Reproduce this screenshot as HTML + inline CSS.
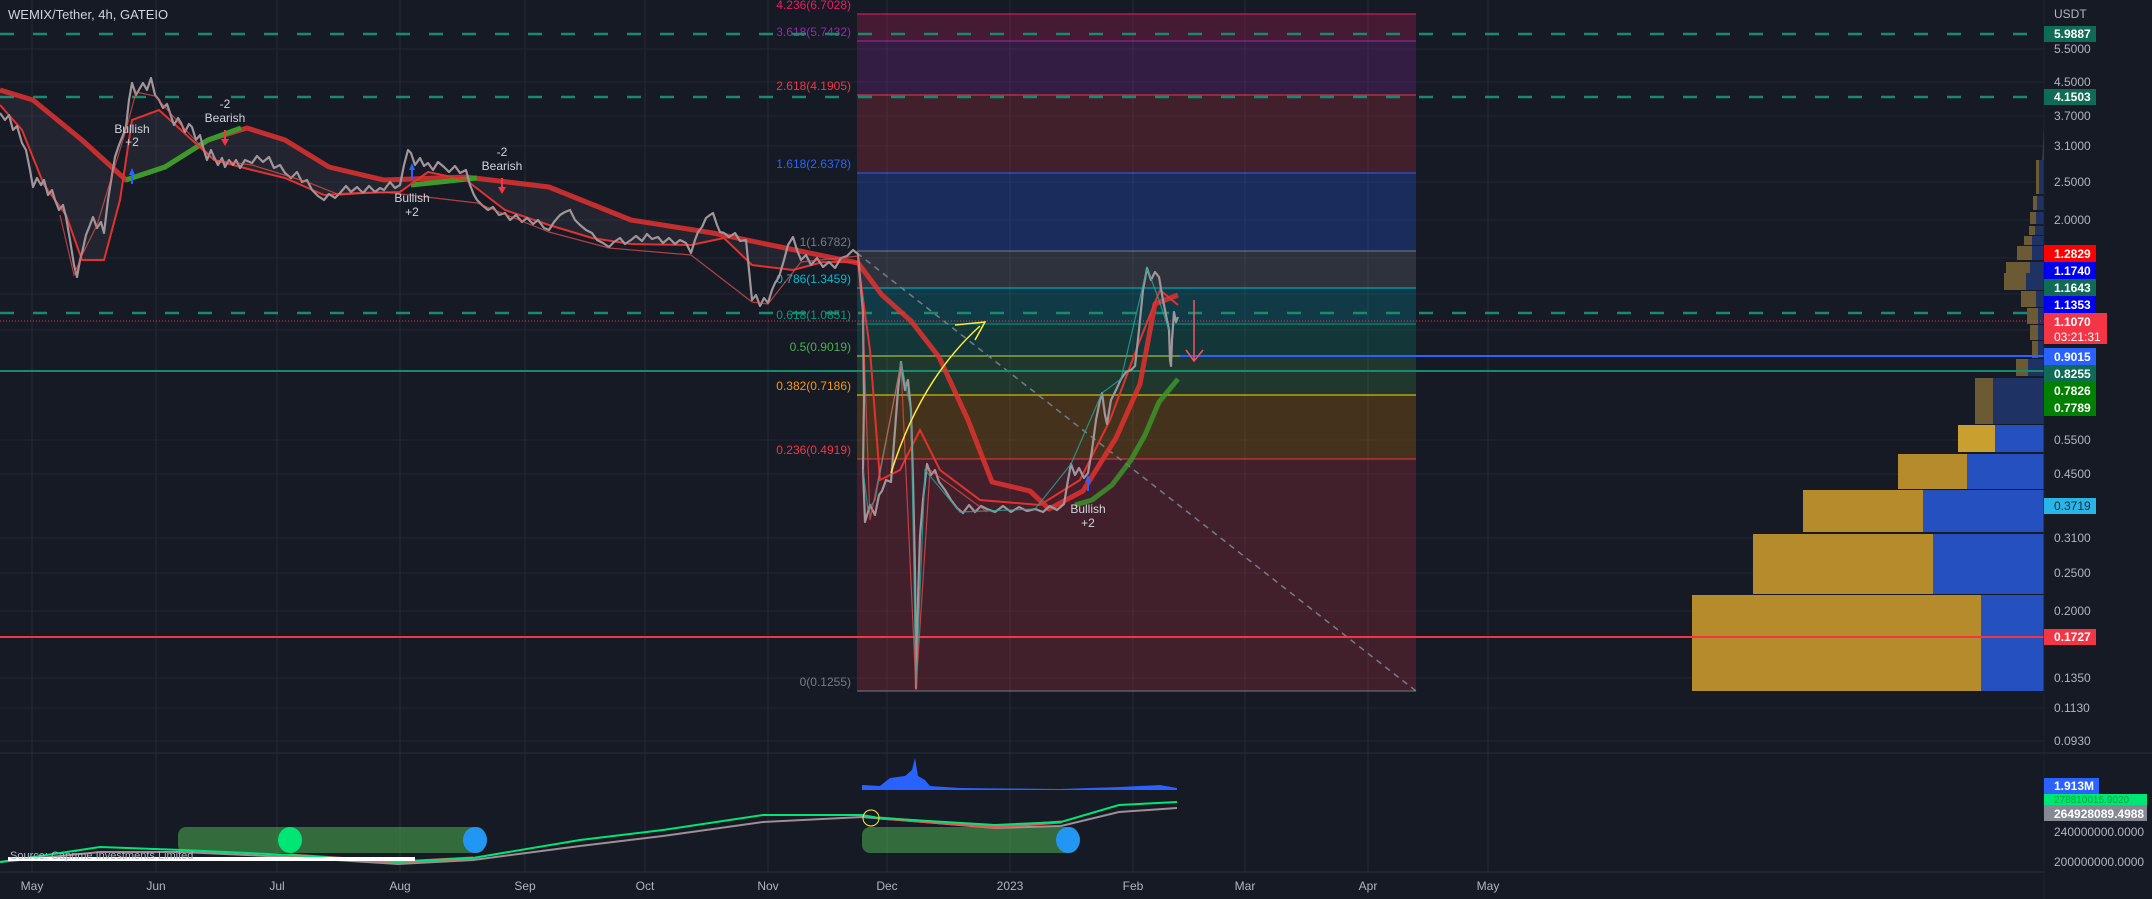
<!DOCTYPE html>
<html><head><meta charset="utf-8"><style>
html,body{margin:0;padding:0;background:#161a25;}
svg{display:block;font-family:"Liberation Sans",sans-serif;}
</style></head><body>
<svg width="2152" height="899" viewBox="0 0 2152 899" xmlns="http://www.w3.org/2000/svg">
<rect width="2152" height="899" fill="#161a25"/>
<g stroke="#242a36" stroke-width="1">
<line x1="32" y1="0" x2="32" y2="872"/><line x1="156" y1="0" x2="156" y2="872"/><line x1="277" y1="0" x2="277" y2="872"/><line x1="400" y1="0" x2="400" y2="872"/><line x1="525" y1="0" x2="525" y2="872"/><line x1="645" y1="0" x2="645" y2="872"/><line x1="768" y1="0" x2="768" y2="872"/><line x1="887" y1="0" x2="887" y2="872"/><line x1="1010" y1="0" x2="1010" y2="872"/><line x1="1133" y1="0" x2="1133" y2="872"/><line x1="1245" y1="0" x2="1245" y2="872"/><line x1="1368" y1="0" x2="1368" y2="872"/><line x1="1488" y1="0" x2="1488" y2="872"/>
</g>
<g stroke="#202532" stroke-width="1">
<line x1="0" y1="49" x2="2044" y2="49"/><line x1="0" y1="82" x2="2044" y2="82"/><line x1="0" y1="116" x2="2044" y2="116"/><line x1="0" y1="146" x2="2044" y2="146"/><line x1="0" y1="182" x2="2044" y2="182"/><line x1="0" y1="220" x2="2044" y2="220"/><line x1="0" y1="258" x2="2044" y2="258"/><line x1="0" y1="294" x2="2044" y2="294"/><line x1="0" y1="330" x2="2044" y2="330"/><line x1="0" y1="440" x2="2044" y2="440"/><line x1="0" y1="474" x2="2044" y2="474"/><line x1="0" y1="538" x2="2044" y2="538"/><line x1="0" y1="573" x2="2044" y2="573"/><line x1="0" y1="611" x2="2044" y2="611"/><line x1="0" y1="678" x2="2044" y2="678"/><line x1="0" y1="708" x2="2044" y2="708"/><line x1="0" y1="741" x2="2044" y2="741"/>
</g>
<rect x="857" y="14" width="559" height="27" fill="#e91e63" fill-opacity="0.22"/>
<rect x="857" y="41" width="559" height="54" fill="#9c27b0" fill-opacity="0.22"/>
<rect x="857" y="95" width="559" height="78" fill="#f23645" fill-opacity="0.2"/>
<rect x="857" y="173" width="559" height="78" fill="#2962ff" fill-opacity="0.25"/>
<rect x="857" y="251" width="559" height="37" fill="#787b86" fill-opacity="0.25"/>
<rect x="857" y="288" width="559" height="36" fill="#00bcd4" fill-opacity="0.2"/>
<rect x="857" y="324" width="559" height="32" fill="#089981" fill-opacity="0.22"/>
<rect x="857" y="356" width="559" height="39" fill="#4caf50" fill-opacity="0.2"/>
<rect x="857" y="395" width="559" height="64" fill="#ff9800" fill-opacity="0.2"/>
<rect x="857" y="459" width="559" height="232" fill="#f23645" fill-opacity="0.2"/>
<g stroke-width="1">
<line x1="857" y1="14" x2="1416" y2="14" stroke="#e91e63"/>
<line x1="857" y1="41" x2="1416" y2="41" stroke="#9c27b0"/>
<line x1="857" y1="95" x2="1416" y2="95" stroke="#f23645"/>
<line x1="857" y1="173" x2="1416" y2="173" stroke="#2962ff"/>
<line x1="857" y1="251" x2="1416" y2="251" stroke="#787b86"/>
<line x1="857" y1="288" x2="1416" y2="288" stroke="#00bcd4"/>
<line x1="857" y1="324" x2="1416" y2="324" stroke="#089981"/>
<line x1="857" y1="356" x2="1416" y2="356" stroke="#c8d84a"/>
<line x1="857" y1="395" x2="1416" y2="395" stroke="#ffd600"/>
<line x1="857" y1="459" x2="1416" y2="459" stroke="#f23645"/>
<line x1="857" y1="691" x2="1416" y2="691" stroke="#787b86"/>
</g>
<line x1="857" y1="253" x2="1416" y2="691" stroke="#787b86" stroke-width="1.5" stroke-dasharray="6,5"/>
<g font-size="12" text-anchor="end">
<text x="851" y="9" fill="#e91e63">4.236(6.7028)</text>
<text x="851" y="36" fill="#9c27b0">3.618(5.7432)</text>
<text x="851" y="90" fill="#f23645">2.618(4.1905)</text>
<text x="851" y="168" fill="#2962ff">1.618(2.6378)</text>
<text x="851" y="246" fill="#787b86">1(1.6782)</text>
<text x="851" y="283" fill="#00bcd4">0.786(1.3459)</text>
<text x="851" y="319" fill="#089981">0.618(1.0851)</text>
<text x="851" y="351" fill="#4caf50">0.5(0.9019)</text>
<text x="851" y="390" fill="#ff9800">0.382(0.7186)</text>
<text x="851" y="454" fill="#f23645">0.236(0.4919)</text>
<text x="851" y="686" fill="#787b86">0(0.1255)</text>
</g>
<g>
<rect x="1692" y="595" width="289" height="96" fill="#b58b2c"/><rect x="1981" y="595" width="63" height="96" fill="#2450c0"/>
<rect x="1753" y="534" width="180" height="60" fill="#b58b2c"/><rect x="1933" y="534" width="111" height="60" fill="#2450c0"/>
<rect x="1803" y="490" width="120" height="42" fill="#b58b2c"/><rect x="1923" y="490" width="121" height="42" fill="#2450c0"/>
<rect x="1898" y="454" width="69" height="35" fill="#b58b2c"/><rect x="1967" y="454" width="77" height="35" fill="#2450c0"/>
<rect x="1958" y="425" width="37" height="27" fill="#c9a030"/><rect x="1995" y="425" width="49" height="27" fill="#2450c0"/>
<rect x="1975" y="378" width="18" height="46" fill="#6b5a33"/><rect x="1993" y="378" width="51" height="46" fill="#1f3264"/>
<rect x="2016" y="359" width="20" height="17" fill="#6b5a33"/><rect x="2028" y="359" width="16" height="17" fill="#1f3264"/>
<rect x="2032" y="341" width="6" height="17" fill="#6b5a33"/><rect x="2038" y="341" width="6" height="17" fill="#1f3264"/>
<rect x="2030" y="325" width="8" height="15" fill="#6b5a33"/><rect x="2038" y="325" width="6" height="15" fill="#1f3264"/>
<rect x="2027" y="308" width="11" height="16" fill="#6b5a33"/><rect x="2038" y="308" width="6" height="16" fill="#1f3264"/>
<rect x="2021" y="291" width="15" height="16" fill="#6b5a33"/><rect x="2036" y="291" width="8" height="16" fill="#1f3264"/>
<rect x="2004" y="273" width="22" height="17" fill="#6b5a33"/><rect x="2026" y="273" width="18" height="17" fill="#1f3264"/>
<rect x="2006" y="262" width="24" height="11" fill="#6b5a33"/><rect x="2030" y="262" width="14" height="11" fill="#1f3264"/>
<rect x="2017" y="246" width="15" height="14" fill="#6b5a33"/><rect x="2032" y="246" width="12" height="14" fill="#1f3264"/>
<rect x="2024" y="236" width="8" height="9" fill="#6b5a33"/><rect x="2032" y="236" width="12" height="9" fill="#1f3264"/>
<rect x="2029" y="226" width="6" height="9" fill="#6b5a33"/><rect x="2035" y="226" width="9" height="9" fill="#1f3264"/>
<rect x="2030" y="212" width="6" height="12" fill="#6b5a33"/><rect x="2036" y="212" width="8" height="12" fill="#1f3264"/>
<rect x="2033" y="196" width="4" height="14" fill="#6b5a33"/><rect x="2037" y="196" width="7" height="14" fill="#1f3264"/>
<rect x="2036" y="160" width="3" height="34" fill="#6b5a33"/><rect x="2039" y="160" width="5" height="34" fill="#1f3264"/>
<line x1="2043" y1="160" x2="2044" y2="128" stroke="#555" stroke-width="1"/>
</g>
<g stroke="#1a8a6e" stroke-width="2.5" stroke-dasharray="14,19">
<line x1="0" y1="34" x2="2030" y2="34"/><line x1="0" y1="97" x2="2030" y2="97"/><line x1="0" y1="313" x2="2030" y2="313"/>
</g>
<line x1="0" y1="321" x2="2044" y2="321" stroke="#f23645" stroke-width="1" stroke-dasharray="1,2"/>
<line x1="1180" y1="356" x2="2044" y2="356" stroke="#2962ff" stroke-width="2"/>
<line x1="0" y1="371" x2="2044" y2="371" stroke="#1a8a6e" stroke-width="2"/>
<line x1="0" y1="637" x2="2044" y2="637" stroke="#f23645" stroke-width="2"/>
<polygon fill="#787b86" fill-opacity="0.12" points="0,90 33,100 82,140 126,180 165,167 208,140 247,128 285,140 329,167 384,180 466,177 549,187 631,220 713,233 795,250 858,263 858,262 823,262 793,270 752,265 724,238 691,245 631,244 592,238 549,225 505,210 466,180 428,172 400,192 357,193 324,195 285,178 252,170 214,160 181,130 159,110 132,120 120,200 104,260 82,260 66,215 44,185 22,130 0,105"/>
<polyline fill="none" stroke="#e3312f" stroke-opacity="0.85" stroke-width="5" stroke-linejoin="round" points="0,90 33,100 82,140 126,180 165,167 208,140 247,128 285,140 329,167 384,180 466,177 549,187 631,220 713,233 795,250 858,263 882,295 911,321 939,357 968,420 992,482 1030,491 1049,509 1083,491 1116,438 1140,384 1155,304 1178,295"/>
<polyline fill="none" stroke="#3c9a2a" stroke-width="5" points="126,180 165,167 208,140 241,128"/>
<polyline fill="none" stroke="#3c9a2a" stroke-width="5" points="411,185 440,182 477,178"/>
<polyline fill="none" stroke="#3c9a2a" stroke-opacity="0.8" stroke-width="5" points="1075,505 1092,500 1112,485 1131,460 1145,435 1159,402 1178,379"/>
<polyline fill="none" stroke="#e3312f" stroke-width="2" points="0,105 22,130 44,185 66,215 82,260 104,260 120,200 132,120 159,110 181,130 214,160 252,170 285,178 324,195 357,193 400,192 428,172 466,180 505,210 549,225 592,238 631,244 691,245 724,238 752,265 793,270 823,262 858,262 870,350 880,480 900,470 920,430 940,470 980,500 1040,505 1080,480 1110,420 1140,340 1160,290 1178,305"/>
<!-- price (dense) -->
<polyline fill="none" stroke="#a0959a" stroke-width="2.2" stroke-linejoin="round" points="0,113 5,120 9,115 13,130 17,126 22,143 26,150 30,170 33,187 37,178 41,185 44,180 48,195 52,190 55,200 59,210 63,205 66,217 70,240 74,265 77,277 80,260 82,253 86,235 90,225 93,217 97,228 101,222 104,233 108,200 112,175 115,157 119,145 123,135 126,127 129,100 132,83 136,95 140,88 143,83 147,90 151,78 155,95 159,100 163,108 167,104 170,113 174,125 178,118 181,123 185,132 189,124 192,127 196,140 200,135 203,147 207,160 211,150 214,157 218,165 222,158 225,167 229,160 233,165 236,160 240,168 245,160 252,163 257,156 263,162 269,157 274,168 280,165 285,173 291,178 297,172 302,182 307,180 312,190 318,196 324,200 329,194 335,198 340,193 346,186 351,192 357,187 363,193 369,186 375,192 380,188 384,190 390,182 395,188 400,185 404,165 408,150 411,153 415,165 420,158 424,166 428,163 433,170 438,162 444,167 449,172 455,166 460,173 466,170 470,185 474,195 477,200 482,205 488,210 493,207 499,215 505,213 510,220 516,215 522,222 527,218 533,224 538,220 544,228 549,230 554,222 560,215 565,212 570,210 575,220 580,225 586,230 592,233 597,240 603,243 609,247 614,242 620,238 625,244 631,240 636,236 642,241 647,234 652,239 658,237 663,243 669,238 675,244 680,240 686,243 691,253 695,240 698,232 702,227 706,218 710,215 713,213 717,225 720,232 724,233 729,237 735,233 740,241 746,240 749,270 752,300 756,295 760,306 764,298 768,303 772,290 775,283 779,277 784,260 788,245 793,237 797,250 801,260 806,255 811,265 817,258 823,267 829,262 835,268 841,258 847,256 853,250 858,254 861,290 863,313 864,400 863,469 865,522 870,505 875,515 879,495 882,491 886,480 891,482 895,430 898,390 901,362 905,390 908,380 911,411 913,480 915,571 916,688 918,600 920,536 923,500 927,464 931,475 935,470 939,482 945,490 951,500 957,508 963,513 969,505 975,512 981,506 987,509 995,512 1003,506 1011,512 1019,507 1027,511 1035,509 1043,512 1050,506 1057,510 1064,504 1068,480 1071,464 1075,475 1079,468 1084,478 1088,473 1092,450 1096,420 1100,400 1102,393 1105,415 1107,424 1111,400 1116,390 1121,379 1126,372 1131,370 1135,366 1139,330 1143,290 1147,268 1151,280 1155,272 1159,277 1163,300 1167,320 1169,330 1170,360 1171,366 1172,340 1174,312 1176,322 1178,317"/>
<polyline fill="none" stroke="#26a69a" stroke-opacity="0.8" stroke-width="1.2" points="863,469 868,510 875,500 901,362 911,411 916,688 925,470 960,512 1035,509 1071,464 1102,393 1121,379 1147,268 1159,300 1169,330"/>
<polyline fill="none" stroke="#ef5350" stroke-opacity="0.7" stroke-width="1.2" points="60,215 74,275 82,255 97,225 126,130 136,92 155,96 181,125 214,160 252,165 307,182 340,195 384,192 477,203 549,232 609,248 691,255 752,302 768,304 801,262 858,256 863,318 870,520 901,365 916,690 930,470 987,512"/>
<path d="M891,473 Q920,380 980,326" fill="none" stroke="#ffeb3b" stroke-width="1.5"/>
<path d="M955,325 L985,322 L975,340" fill="none" stroke="#ffeb3b" stroke-width="1.5"/>
<line x1="1194" y1="300" x2="1194" y2="360" stroke="#f7525f" stroke-width="1.5"/>
<path d="M1186,350 L1194,361 L1203,350" fill="none" stroke="#f7525f" stroke-width="1.5"/>
<g fill="#d1d4dc" font-size="12" text-anchor="middle">
<text x="132" y="133">Bullish</text><text x="132" y="146">+2</text>
<text x="225" y="108">-2</text><text x="225" y="122">Bearish</text>
<text x="412" y="202">Bullish</text><text x="412" y="216">+2</text>
<text x="502" y="156">-2</text><text x="502" y="170">Bearish</text>
<text x="1088" y="513">Bullish</text><text x="1088" y="527">+2</text>
</g>
<g fill="#2962ff"><path d="M129,175 L132,168 L135,175 Z"/><rect x="131" y="174" width="2" height="10"/>
<path d="M409,170 L412,163 L415,170 Z"/><rect x="411" y="169" width="2" height="10"/>
<path d="M1085,482 L1088,475 L1091,482 Z"/><rect x="1087" y="481" width="2" height="10"/></g>
<g fill="#f23645"><rect x="224" y="130" width="2" height="10"/><path d="M221,139 L225,146 L229,139 Z"/>
<rect x="501" y="178" width="2" height="10"/><path d="M498,187 L502,194 L506,187 Z"/></g>
<text x="8" y="19" fill="#d1d4dc" font-size="13">WEMIX/Tether, 4h, GATEIO</text>
<line x1="0" y1="753" x2="2152" y2="753" stroke="#2a2e39" stroke-width="1"/>
<line x1="0" y1="872" x2="2044" y2="872" stroke="#2a2e39" stroke-width="1"/>
<line x1="2044" y1="0" x2="2044" y2="899" stroke="#1e222d" stroke-width="1"/>
<path d="M862,790 L862,785 L880,786 L890,778 L905,776 L912,770 L915,758 L918,776 L925,780 L930,786 L960,788 L1060,789 L1120,787 L1160,785 L1177,788 L1177,790 Z" fill="#2962ff"/>
<rect x="178" y="827" width="307" height="26" rx="8" fill="#4caf50" fill-opacity="0.55"/>
<ellipse cx="290" cy="840" rx="12" ry="13" fill="#00e676"/>
<ellipse cx="475" cy="840" rx="12" ry="13" fill="#2196f3"/>
<rect x="862" y="827" width="216" height="26" rx="8" fill="#4caf50" fill-opacity="0.55"/>
<ellipse cx="1068" cy="840" rx="12" ry="13" fill="#2196f3"/>
<polyline fill="none" stroke="#9e8e96" stroke-width="2" points="0,862 100,852 182,852 290,857 398,864 473,860 580,846 663,836 763,822 862,817 900,820 995,828 1061,826 1119,812 1177,808"/>
<polyline fill="none" stroke="#ef5350" stroke-width="3" points="290,855 398,862 473,858"/>
<polyline fill="none" stroke="#ef5350" stroke-width="3" points="879,818 995,827 1061,822"/>
<polyline fill="none" stroke="#00e676" stroke-width="2" points="0,862 100,847 182,850 290,855 398,862 473,858 580,840 663,830 763,815 862,815 879,818 995,825 1061,822 1119,805 1177,802"/>
<circle cx="871" cy="818" r="8" fill="none" stroke="#ffeb3b" stroke-width="1"/>
<rect x="8" y="857" width="407" height="4" fill="#ffffff"/>
<text x="10" y="859" fill="#b2b5be" font-size="11">Source: Caprime Investments Limited</text>
<g fill="#b2b5be" font-size="12" text-anchor="middle">
<text x="32" y="890">May</text><text x="156" y="890">Jun</text><text x="277" y="890">Jul</text><text x="400" y="890">Aug</text><text x="525" y="890">Sep</text><text x="645" y="890">Oct</text><text x="768" y="890">Nov</text><text x="887" y="890">Dec</text><text x="1010" y="890">2023</text><text x="1133" y="890">Feb</text><text x="1245" y="890">Mar</text><text x="1368" y="890">Apr</text><text x="1488" y="890">May</text>
</g>
<g font-size="12" fill="#b2b5be">
<text x="2054" y="18">USDT</text>
<text x="2054" y="53">5.5000</text><text x="2054" y="86">4.5000</text><text x="2054" y="120">3.7000</text><text x="2054" y="150">3.1000</text><text x="2054" y="186">2.5000</text><text x="2054" y="224">2.0000</text>
<text x="2054" y="444">0.5500</text><text x="2054" y="478">0.4500</text><text x="2054" y="542">0.3100</text><text x="2054" y="577">0.2500</text><text x="2054" y="615">0.2000</text><text x="2054" y="682">0.1350</text><text x="2054" y="712">0.1130</text><text x="2054" y="745">0.0930</text>
<text x="2054" y="836">240000000.0000</text><text x="2054" y="866">200000000.0000</text>
</g>
<g font-size="12" font-weight="bold">
<rect x="2044" y="26" width="52" height="16" fill="#0f6b55"/><text x="2054" y="38" fill="#fff">5.9887</text>
<rect x="2044" y="89" width="52" height="16" fill="#0f6b55"/><text x="2054" y="101" fill="#fff">4.1503</text>
<rect x="2044" y="245" width="52" height="17" fill="#f00"/><text x="2054" y="258" fill="#fff">1.2829</text>
<rect x="2044" y="262" width="52" height="17" fill="#0000ee"/><text x="2054" y="275" fill="#fff">1.1740</text>
<rect x="2044" y="279" width="52" height="17" fill="#0f6b55"/><text x="2054" y="292" fill="#fff">1.1643</text>
<rect x="2044" y="296" width="52" height="17" fill="#0000ee"/><text x="2054" y="309" fill="#fff">1.1353</text>
<rect x="2044" y="313" width="63" height="31" fill="#f23645"/><text x="2054" y="326" fill="#fff">1.1070</text><text x="2054" y="341" fill="#fff" font-weight="normal">03:21:31</text>
<rect x="2044" y="348" width="52" height="17" fill="#2962ff"/><text x="2054" y="361" fill="#fff">0.9015</text>
<rect x="2044" y="365" width="52" height="17" fill="#0f6b55"/><text x="2054" y="378" fill="#fff">0.8255</text>
<rect x="2044" y="382" width="52" height="17" fill="#008000"/><text x="2054" y="395" fill="#fff">0.7826</text>
<rect x="2044" y="399" width="52" height="17" fill="#008000"/><text x="2054" y="412" fill="#fff">0.7789</text>
<rect x="2044" y="498" width="52" height="16" fill="#29b6e6"/><text x="2054" y="510" fill="#1a2a40" font-weight="normal">0.3719</text>
<rect x="2044" y="629" width="52" height="16" fill="#f23645"/><text x="2054" y="641" fill="#fff">0.1727</text>
<rect x="2044" y="778" width="55" height="16" fill="#2962ff"/><text x="2054" y="790" fill="#fff">1.913M</text>
<rect x="2044" y="794" width="103" height="11" fill="#00e676"/><text x="2054" y="803" fill="#0a3" font-size="10" font-weight="normal">278810015.9020</text>
<rect x="2044" y="805" width="103" height="16" fill="#868993"/><text x="2054" y="818" fill="#fff">264928089.4988</text>
</g>
</svg>
</body></html>
